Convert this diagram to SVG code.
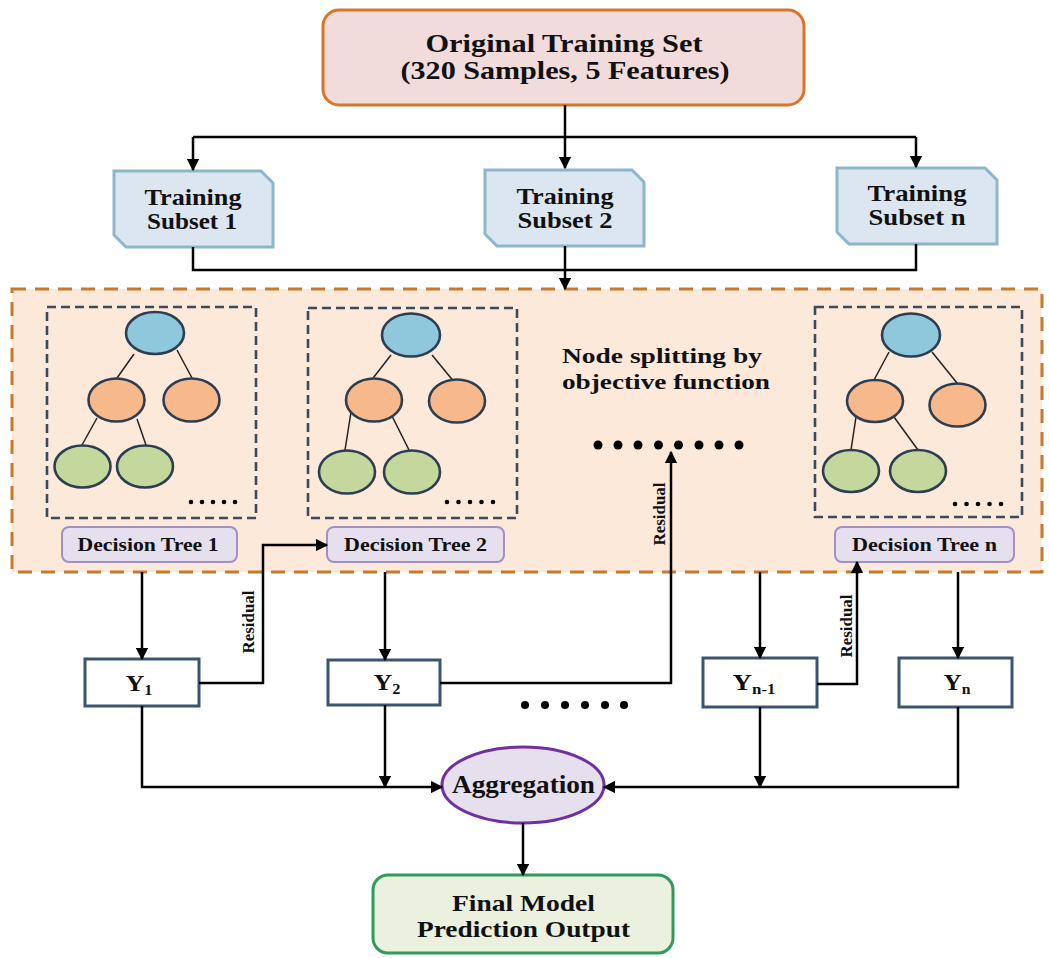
<svg xmlns="http://www.w3.org/2000/svg" width="1049" height="958" viewBox="0 0 1049 958">
<defs>
<marker id="ah" viewBox="0 0 10 10" refX="9" refY="5" markerWidth="5" markerHeight="5" markerUnits="strokeWidth" orient="auto">
<path d="M0,0 L10,5 L0,10 Z" fill="#000"/>
</marker>
<style>
text{font-family:"Liberation Serif","Times New Roman",serif;font-weight:bold;fill:#111;}
.c{text-anchor:middle;}
.con{fill:none;stroke:#000;stroke-width:2.5;}
.arr{marker-end:url(#ah);}
.sub{fill:#dce6f1;stroke:#8cb6cc;stroke-width:3;}
.tbox{fill:none;stroke:#3b4a5d;stroke-width:2.6;stroke-dasharray:9 5;}
.n{stroke:#2c3e50;stroke-width:2.6;}
.blue{fill:#8fc7dd;}
.org{fill:#f7b98c;}
.grn{fill:#c4d89e;}
.edge{stroke:#222;stroke-width:1.5;}
.dt{fill:#e5dfee;stroke:#a38fc2;stroke-width:2;}
.y{fill:#fff;stroke:#3b5570;stroke-width:3;}
.dot{fill:#000;}
</style>
</defs>
<rect width="1049" height="958" fill="#fff"/>

<g id="region">
<rect x="12" y="289" width="1030" height="283" fill="#fde9da" stroke="#c9782c" stroke-width="3" stroke-dasharray="14 9"/>
</g>

<g id="original">
<rect x="323" y="10" width="481" height="95" rx="16" fill="#f2dcdb" stroke="#d9752b" stroke-width="3"/>
<text class="c" x="564" y="52" font-size="26" textLength="277" lengthAdjust="spacingAndGlyphs">Original Training Set</text>
<text class="c" x="565" y="79" font-size="26" textLength="329" lengthAdjust="spacingAndGlyphs">(320 Samples, 5 Features)</text>
</g>

<g id="subset1">
<path class="sub" d="M114,171 H261 L273,183 V247 H126 L114,235 Z"/>
<text class="c" x="193" y="205" font-size="24" textLength="97" lengthAdjust="spacingAndGlyphs">Training</text>
<text class="c" x="192" y="229" font-size="24" textLength="90" lengthAdjust="spacingAndGlyphs">Subset 1</text>
</g>
<g id="subset2">
<path class="sub" d="M485,170 H632 L644,182 V246 H497 L485,234 Z"/>
<text class="c" x="565" y="204" font-size="24" textLength="97" lengthAdjust="spacingAndGlyphs">Training</text>
<text class="c" x="565" y="228" font-size="24" textLength="95" lengthAdjust="spacingAndGlyphs">Subset 2</text>
</g>
<g id="subsetn">
<path class="sub" d="M837,168 H985 L997,180 V244 H849 L837,232 Z"/>
<text class="c" x="917" y="201" font-size="24" textLength="99" lengthAdjust="spacingAndGlyphs">Training</text>
<text class="c" x="917" y="225" font-size="24" textLength="97" lengthAdjust="spacingAndGlyphs">Subset n</text>
</g>

<g id="tree1">
<rect class="tbox" x="47" y="307" width="209" height="211"/>
<line class="edge" x1="134" y1="354" x2="117" y2="378"/>
<line class="edge" x1="177" y1="350" x2="192" y2="378"/>
<line class="edge" x1="97" y1="418" x2="82" y2="445"/>
<line class="edge" x1="137" y1="419" x2="146" y2="445"/>
<ellipse class="n blue" cx="155" cy="333" rx="29" ry="21"/>
<ellipse class="n org" cx="116.5" cy="400" rx="28" ry="21.5"/>
<ellipse class="n org" cx="191.5" cy="400" rx="28" ry="21.5"/>
<ellipse class="n grn" cx="82.5" cy="466.5" rx="28" ry="21"/>
<ellipse class="n grn" cx="145" cy="466.5" rx="28" ry="21"/>
<g class="dot"><circle cx="191" cy="502" r="2.3"/><circle cx="202" cy="502" r="2.3"/><circle cx="213" cy="502" r="2.3"/><circle cx="224" cy="502" r="2.3"/><circle cx="235" cy="502" r="2.3"/></g>
</g>
<g id="dt1">
<rect class="dt" x="62" y="527" width="175" height="35" rx="7"/>
<text class="c" x="148" y="551" font-size="18" textLength="141" lengthAdjust="spacingAndGlyphs">Decision Tree 1</text>
</g>

<g id="tree2">
<rect class="tbox" x="308" y="308" width="209" height="210"/>
<line class="edge" x1="391" y1="355" x2="370" y2="382"/>
<line class="edge" x1="432" y1="355" x2="455" y2="383"/>
<line class="edge" x1="351" y1="412" x2="345" y2="450"/>
<line class="edge" x1="389" y1="410" x2="410" y2="452"/>
<ellipse class="n blue" cx="411" cy="335" rx="29" ry="21.5"/>
<ellipse class="n org" cx="374" cy="400" rx="28" ry="21.5"/>
<ellipse class="n org" cx="457" cy="401" rx="28" ry="21.5"/>
<ellipse class="n grn" cx="347" cy="472" rx="28" ry="21.5"/>
<ellipse class="n grn" cx="412" cy="472" rx="28" ry="21.5"/>
<g class="dot"><circle cx="447" cy="502" r="2.3"/><circle cx="458.5" cy="502" r="2.3"/><circle cx="470" cy="502" r="2.3"/><circle cx="481.5" cy="502" r="2.3"/><circle cx="493" cy="502" r="2.3"/></g>
</g>
<g id="dt2">
<rect class="dt" x="327" y="527" width="177" height="35" rx="7"/>
<text class="c" x="415.5" y="551" font-size="18" textLength="143" lengthAdjust="spacingAndGlyphs">Decision Tree 2</text>
</g>

<g id="splitting">
<text x="562" y="363" font-size="22" textLength="200" lengthAdjust="spacingAndGlyphs">Node splitting by</text>
<text x="562" y="389" font-size="22" textLength="208" lengthAdjust="spacingAndGlyphs">objective function</text>
<g class="dot"><circle cx="598" cy="445" r="4.5"/><circle cx="618" cy="445" r="4.5"/><circle cx="638" cy="445" r="4.5"/><circle cx="658.5" cy="445" r="4.5"/><circle cx="678.5" cy="445" r="4.5"/><circle cx="699" cy="445" r="4.5"/><circle cx="719" cy="445" r="4.5"/><circle cx="739" cy="445" r="4.5"/></g>
</g>

<g id="treen">
<rect class="tbox" x="815" y="307" width="207" height="210"/>
<line class="edge" x1="889" y1="352" x2="874" y2="380"/>
<line class="edge" x1="932" y1="352" x2="957" y2="383"/>
<line class="edge" x1="856" y1="417" x2="851" y2="450"/>
<line class="edge" x1="894" y1="417" x2="918" y2="450"/>
<ellipse class="n blue" cx="911" cy="335" rx="29" ry="21.5"/>
<ellipse class="n org" cx="875" cy="401" rx="28" ry="21"/>
<ellipse class="n org" cx="957.5" cy="405" rx="28" ry="21.5"/>
<ellipse class="n grn" cx="851" cy="471" rx="28" ry="21"/>
<ellipse class="n grn" cx="918" cy="471" rx="28" ry="21"/>
<g class="dot"><circle cx="955" cy="504" r="2.3"/><circle cx="966.5" cy="504" r="2.3"/><circle cx="978" cy="504" r="2.3"/><circle cx="989.5" cy="504" r="2.3"/><circle cx="1001" cy="504" r="2.3"/></g>
</g>
<g id="dtn">
<rect class="dt" x="835" y="527" width="179" height="35" rx="7"/>
<text class="c" x="924.5" y="551" font-size="18" textLength="145" lengthAdjust="spacingAndGlyphs">Decision Tree n</text>
</g>

<g id="y1">
<rect class="y" x="85" y="659" width="114" height="47"/>
<text class="c" x="139" y="691" font-size="24" textLength="27" lengthAdjust="spacingAndGlyphs">Y<tspan font-size="15" dy="4">1</tspan></text>
</g>
<g id="y2">
<rect class="y" x="328" y="660" width="112" height="45"/>
<text class="c" x="387" y="690" font-size="24" textLength="27" lengthAdjust="spacingAndGlyphs">Y<tspan font-size="15" dy="4">2</tspan></text>
</g>
<g id="yn1">
<rect class="y" x="703" y="658" width="114" height="49"/>
<text class="c" x="754" y="690" font-size="24" textLength="43" lengthAdjust="spacingAndGlyphs">Y<tspan font-size="15" dy="4">n-1</tspan></text>
</g>
<g id="yn">
<rect class="y" x="899" y="658" width="113" height="49"/>
<text class="c" x="957" y="690" font-size="24" textLength="27" lengthAdjust="spacingAndGlyphs">Y<tspan font-size="15" dy="4">n</tspan></text>
</g>

<g id="dots2" class="dot">
<circle cx="525" cy="705" r="4"/><circle cx="545" cy="705" r="4"/><circle cx="565" cy="705" r="4"/><circle cx="585" cy="705" r="4"/><circle cx="605" cy="705" r="4"/><circle cx="624" cy="705" r="4"/>
</g>

<g id="aggregation">
<ellipse cx="523" cy="785" rx="81" ry="38" fill="#e5dfee" stroke="#7030a0" stroke-width="3"/>
<text class="c" x="523.5" y="793" font-size="26" textLength="143" lengthAdjust="spacingAndGlyphs">Aggregation</text>
</g>

<g id="final">
<rect x="373" y="875" width="300" height="78" rx="15" fill="#ebf1de" stroke="#2e9a5c" stroke-width="3"/>
<text class="c" x="523.5" y="911" font-size="23" textLength="143" lengthAdjust="spacingAndGlyphs">Final Model</text>
<text class="c" x="523.5" y="937" font-size="23" textLength="213" lengthAdjust="spacingAndGlyphs">Prediction Output</text>
</g>

<g id="connectors">
<path class="con arr" d="M565,105 V168"/>
<path class="con" d="M193,137 H916"/>
<path class="con arr" d="M193,137 V170"/>
<path class="con arr" d="M916,137 V167"/>
<path class="con" d="M193,247 V270 H916 V244"/>
<path class="con arr" d="M565,246 V289"/>
<path class="con arr" d="M142,572 V659"/>
<path class="con arr" d="M385,572 V660"/>
<path class="con arr" d="M760,572 V658"/>
<path class="con arr" d="M958,572 V658"/>
<path class="con arr" d="M199,683 H263 V545 H327"/>
<path class="con arr" d="M440,683 H671 V452"/>
<path class="con arr" d="M817,684 H857 V562"/>
<path class="con arr" d="M142,706 V787 H442"/>
<path class="con arr" d="M385,705 V787"/>
<path class="con arr" d="M760,707 V787"/>
<path class="con arr" d="M958,707 V787 H604"/>
<path class="con arr" d="M523,823 V875"/>
<text transform="translate(254,622) rotate(-90)" class="c" font-size="17" textLength="63" lengthAdjust="spacingAndGlyphs">Residual</text>
<text transform="translate(665,514) rotate(-90)" class="c" font-size="17" textLength="63" lengthAdjust="spacingAndGlyphs">Residual</text>
<text transform="translate(852,626) rotate(-90)" class="c" font-size="17" textLength="63" lengthAdjust="spacingAndGlyphs">Residual</text>
</g>
</svg>
